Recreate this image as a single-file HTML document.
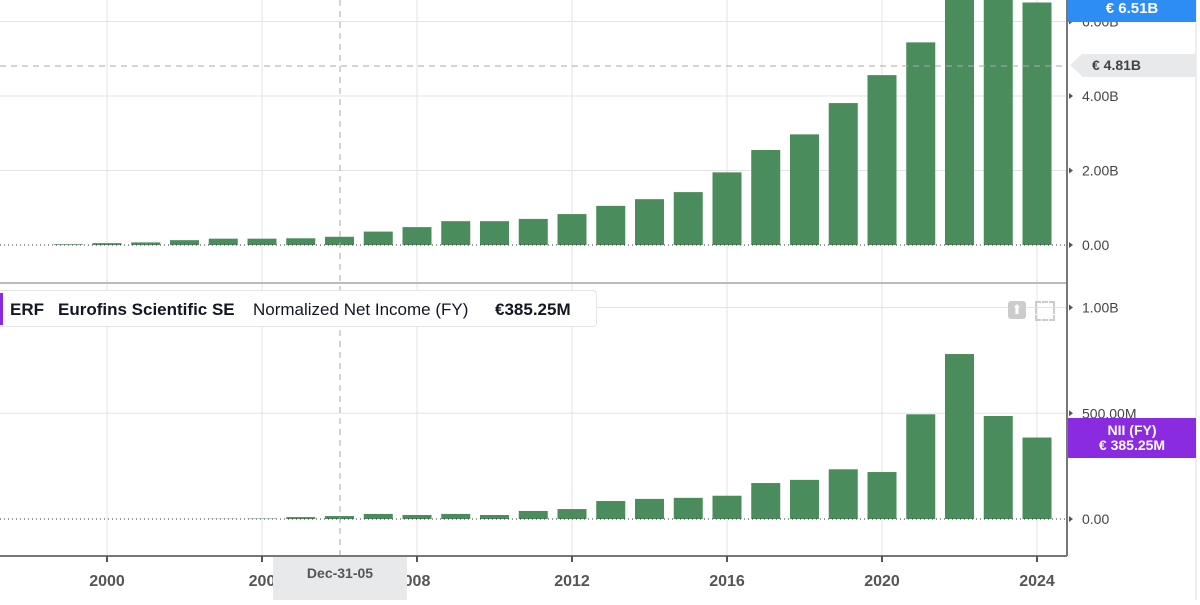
<!DOCTYPE html>
<html><head><meta charset="utf-8"><style>
body{margin:0;width:1200px;height:600px;overflow:hidden;background:#fff;font-family:"Liberation Sans",sans-serif}
</style></head><body>
<svg id="c" width="1200" height="600" xmlns="http://www.w3.org/2000/svg"></svg>
<script>
const years=[1999,2000,2001,2002,2003,2004,2005,2006,2007,2008,2009,2010,2011,2012,2013,2014,2015,2016,2017,2018,2019,2020,2021,2022,2023,2024];
const revenueB=[0.02,0.05,0.07,0.13,0.17,0.17,0.18,0.22,0.36,0.48,0.64,0.64,0.7,0.83,1.05,1.23,1.42,1.95,2.55,2.97,3.81,4.56,5.44,6.72,6.72,6.51];
const netIncomeM=[0,0,0,0,1,2,9,14,24,19,24,19,38,47,85,95,100,110,170,185,235,222,495,780,487,385.25];
const topTicks=[0,2,4,6];
const topTickLabels=["0.00","2.00B","4.00B","6.00B"];
const botTicks=[0,500,1000];
const botTickLabels=["0.00","500.00M","1.00B"];
const xTicks=[2000,2004,2008,2012,2016,2020,2024];
const xTickLabels=["2000","200","008","2012","2016","2020","2024"];

const svg=document.getElementById('c');const NS='http://www.w3.org/2000/svg';
function mk(t,a,p){const e=document.createElementNS(NS,t);for(const k in a)e.setAttribute(k,a[k]);(p||svg).appendChild(e);return e;}
const xS=y=>107+(y-2000)*38.75;
const yT=v=>245-v*37.25;
const yB=v=>519-v*0.2115;
const plotR=1067;
// gridlines
for(const t of xTicks){const g=mk('line',{x1:xS(t),x2:xS(t),y1:0,y2:556,stroke:'#e3e3e3'});

}
for(const t of topTicks){if(t===0)continue;const g=mk('line',{x1:0,x2:plotR,y1:yT(t),y2:yT(t),stroke:'#e3e3e3'});

}
for(const t of botTicks){if(t===0)continue;const g=mk('line',{x1:0,x2:plotR,y1:yB(t),y2:yB(t),stroke:'#e3e3e3'});

}
// bars
years.forEach((y,i)=>{const h=revenueB[i]*37.25;const top=Math.max(yT(revenueB[i]),0);
const b=mk('rect',{x:xS(y)-14.5,y:top,width:29,height:245-top,fill:'#4a8c5c'});


const top2=yB(netIncomeM[i]);
const b2=mk('rect',{x:xS(y)-14.5,y:top2,width:29,height:519-top2,fill:'#4a8c5c'});

});
// zero lines
const z1=mk('line',{x1:0,x2:plotR,y1:245,y2:245,stroke:'#333','stroke-dasharray':'1 3'});

const z2=mk('line',{x1:0,x2:plotR,y1:519,y2:519,stroke:'#333','stroke-dasharray':'1 3'});

// crosshair
const ch=mk('line',{x1:340,x2:340,y1:0,y2:556,stroke:'#aaa','stroke-dasharray':'6 5'});

const chh=mk('line',{x1:0,x2:plotR,y1:66,y2:66,stroke:'#aaa','stroke-dasharray':'6 5'});

// separators and axes
const sep=mk('line',{x1:0,x2:plotR,y1:283,y2:283,stroke:'#bbb','stroke-width':2});

const xa=mk('line',{x1:0,x2:plotR,y1:556,y2:556,stroke:'#777','stroke-width':2});

const ya=mk('line',{x1:plotR,x2:plotR,y1:0,y2:556,stroke:'#777','stroke-width':2});

const rb=mk('line',{x1:1196,x2:1196,y1:0,y2:600,stroke:'#ddd','stroke-width':1});

// tick labels
topTicks.forEach((t,i)=>{const tx=mk('text',{x:1082,y:yT(t)+5,'font-size':14,fill:'#444'});tx.textContent=topTickLabels[i];

const m=mk('path',{d:`M${plotR+2} ${yT(t)-3}l4 3l-4 3z`,fill:'#555'});});
botTicks.forEach((t,i)=>{const tx=mk('text',{x:1082,y:yB(t)+5,'font-size':14,fill:'#444'});tx.textContent=botTickLabels[i];

mk('path',{d:`M${plotR+2} ${yB(t)-3}l4 3l-4 3z`,fill:'#555'});});
xTicks.forEach((t,i)=>{mk('line',{x1:xS(t),x2:xS(t),y1:556,y2:562,stroke:'#555','stroke-width':2});
const tx=mk('text',{x:xS(t),y:586,'font-size':16,'font-weight':'bold',fill:'#555','text-anchor':'middle'});tx.textContent=xTickLabels[i];
});
</script>
<div style="position:absolute;left:273px;top:557px;width:134px;height:43px;background:#e8e9eb;color:#555;font-size:14px;font-weight:bold;text-align:center;line-height:32px">Dec-31-05</div>
<div style="position:absolute;left:1068px;top:0;width:128px;height:22px;background:#2e8cf5;color:#fff;font-size:15px;font-weight:bold;text-align:center;line-height:18px">€ 6.51B</div>
<div style="position:absolute;left:1082px;top:54px;width:114px;height:23px;background:#e8e9eb;color:#444;font-size:14px;font-weight:bold;line-height:23px;padding-left:10px;box-sizing:border-box">€ 4.81B</div>
<div style="position:absolute;left:1070px;top:54px;width:0;height:0;border-top:11.5px solid transparent;border-bottom:11.5px solid transparent;border-right:12px solid #e8e9eb"></div>
<div style="position:absolute;left:1068px;top:418px;width:128px;height:40px;background:#8a2be2;color:#fff;font-size:14px;font-weight:bold;text-align:center;line-height:15px;padding-top:5px;box-sizing:border-box">NII (FY)<br>€ 385.25M</div>
<div style="position:absolute;left:0;top:290px;width:597px;height:37px;background:#fff;border:1px solid #e5e5e5;border-left:none;border-radius:0 4px 4px 0;font-size:17px;line-height:37px;color:#131722;box-sizing:border-box">
<span style="position:absolute;left:0;top:2px;width:3px;height:32px;background:#8a2be2"></span>
<span style="position:absolute;left:10px;font-weight:bold">ERF</span>
<span style="position:absolute;left:58px;font-weight:bold">Eurofins Scientific SE</span>
<span style="position:absolute;left:253px">Normalized Net Income (FY)</span>
<span style="position:absolute;left:495px;font-weight:bold">€385.25M</span></div>
<div style="position:absolute;left:1008px;top:301px;width:18px;height:18px;background:#ccc;border-radius:3px;color:#fff;font-size:13px;text-align:center;line-height:18px">⬆</div>
<div style="position:absolute;left:1035px;top:301px;width:16px;height:16px;border:2px dashed #ccc"></div>
</body></html>
